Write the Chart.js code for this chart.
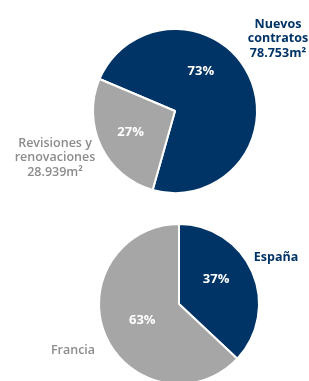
<!DOCTYPE html>
<html>
<head>
<meta charset="utf-8">
<script src="https://cdn.jsdelivr.net/npm/chart.js@4.4.1/dist/chart.umd.min.js"></script>
<style>
  html, body { margin: 0; padding: 0; background: #fff; overflow: hidden; }
  body { width: 309px; height: 381px; position: relative; }
  .box { position: absolute; left: 0; width: 309px; }
</style>
</head>
<body>
<div class="box" style="top:0;height:200px"><canvas id="contractsChart"></canvas></div>
<div class="box" style="top:200px;height:190px"><canvas id="countryChart"></canvas></div>
<script>
// Superficie contratada: nuevos contratos vs revisiones
const contractLabels = [['Nuevos', 'contratos'], ['Revisiones y', 'renovaciones']];
const contractShares = [73, 27];
const contractAreas = ['78.753', '28.939'];

// Reparto por país
const countryLabels = [['España'], ['Francia']];
const countryShares = [37, 63];

const NAVY = '#003366';
const GREY = '#a6a6a6';
const GREY_TEXT = '#8c8c8c';
const FONT = "'Open Sans', 'DejaVu Sans', sans-serif";

// draws "xx%" inside each slice and the category names outside
const sliceLabels = {
    id: 'sliceLabels',
    afterDatasetsDraw(chart, args, opts) {
        const ctx = chart.ctx;
        const arcs = chart.getDatasetMeta(0).data;
        const values = chart.data.datasets[0].data;
        ctx.save();
        ctx.textAlign = 'center';
        ctx.textBaseline = 'middle';
        arcs.forEach((arc, i) => {
            const p = arc.getProps(['x', 'y', 'startAngle', 'endAngle', 'outerRadius'], true);
            const mid = opts.angles && opts.angles[i] != null
                ? (opts.angles[i] - 90) * Math.PI / 180
                : (p.startAngle + p.endAngle) / 2;
            const r = p.outerRadius * opts.dist[i];
            ctx.fillStyle = '#fff';
            ctx.font = 'bold 13px ' + FONT;
            ctx.fillText(values[i] + '%', p.x + Math.cos(mid) * r, p.y + Math.sin(mid) * r);

            const lines = opts.names[i].slice();
            if (opts.areas) lines.push(opts.areas[i] + 'm²');
            const pos = opts.namePos[i];
            ctx.fillStyle = opts.nameColors[i];
            ctx.font = opts.nameFonts[i];
            lines.forEach((ln, k) => ctx.fillText(ln, pos[0], pos[1] + k * 14.8));
        });
        ctx.restore();
    }
};

function pieOptions(padding, labelOpts) {
    return {
        responsive: true,
        maintainAspectRatio: false,
        animation: false,
        layout: { padding: padding },
        plugins: {
            legend: { display: false },
            tooltip: { enabled: false },
            sliceLabels: labelOpts
        }
    };
}

new Chart(document.getElementById('contractsChart'), {
    type: 'pie',
    data: {
        labels: contractLabels.map(l => l.join(' ')),
        datasets: [{
            data: contractShares,
            backgroundColor: [NAVY, GREY],
            borderColor: '#fff',
            borderWidth: 2
        }]
    },
    options: Object.assign(pieOptions({ left: 92, right: 51, top: 28, bottom: 6 }, {
        names: contractLabels,
        areas: contractAreas,
        angles: [33, null],
        dist: [0.58, 0.6],
        namePos: [[278, 24], [55, 143]],
        nameColors: [NAVY, GREY_TEXT],
        nameFonts: ['bold 12.5px ' + FONT, '600 12.5px ' + FONT]
    }), { rotation: -67 }),
    plugins: [sliceLabels]
});

new Chart(document.getElementById('countryChart'), {
    type: 'pie',
    data: {
        labels: countryLabels.map(l => l.join(' ')),
        datasets: [{
            data: countryShares,
            backgroundColor: [NAVY, GREY],
            borderColor: '#fff',
            borderWidth: 2
        }]
    },
    options: pieOptions({ left: 98, right: 49, top: 23, bottom: 5 }, {
        names: countryLabels,
        angles: [56, null],
        dist: [0.56, 0.5],
        namePos: [[276, 57], [73, 150]],
        nameColors: [NAVY, GREY_TEXT],
        nameFonts: ['bold 12.5px ' + FONT, '600 12.5px ' + FONT]
    }),
    plugins: [sliceLabels]
});
</script>
</body>
</html>
